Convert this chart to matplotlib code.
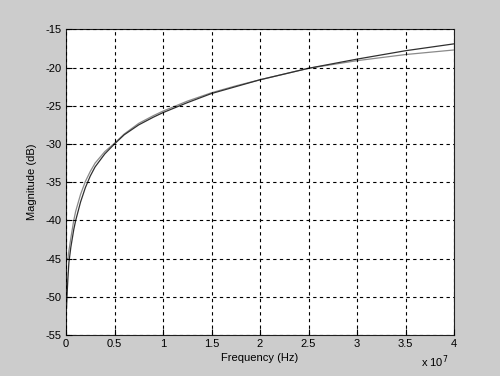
# Magnitude vs frequency, two fitted curves (MATLAB style)
import matplotlib
matplotlib.use('Agg')
import matplotlib.pyplot as plt

# frequency in units of 1e7 Hz
freq_e7 = [0.005, 0.01, 0.02, 0.03, 0.05, 0.08, 0.1, 0.15, 0.2, 0.25, 0.3, 0.4, 0.5,
           0.6, 0.75, 0.9, 1.0, 1.25, 1.5, 1.75, 2.0, 2.5, 3.0, 3.5, 4.0]
mag_dark = [-51.5, -50.0, -47.5, -45.5, -43.5, -41.2, -40.0, -37.6, -35.7, -34.2, -33.0, -31.3, -30.0,
            -28.8, -27.5, -26.5, -25.9, -24.6, -23.4, -22.5, -21.6, -20.1, -18.9, -17.8, -16.9]
mag_gray = [-45.0, -45.0, -45.0, -44.0, -42.3, -40.0, -38.8, -36.6, -34.9, -33.6, -32.5, -31.0, -29.9,
            -28.7, -27.3, -26.3, -25.7, -24.4, -23.3, -22.4, -21.6, -20.1, -19.1, -18.3, -17.7]

xticks = [0, 0.5, 1, 1.5, 2, 2.5, 3, 3.5, 4]
xticklabels = ['0', '0.5', '1', '1.5', '2', '2.5', '3', '3.5', '4']
yticks = [-55, -50, -45, -40, -35, -30, -25, -20, -15]

plt.rcParams['font.family'] = ['Liberation Sans', 'DejaVu Sans']
plt.rcParams['axes.unicode_minus'] = False

fig = plt.figure(figsize=(5.0, 3.76), dpi=100, facecolor='#cccccc')
ax = fig.add_axes([0.132, 0.109, 0.776, 0.813])
ax.set_facecolor('white')

ax.plot(freq_e7, mag_gray, color='#8a8a8a', linewidth=0.9)
ax.plot(freq_e7, mag_dark, color='#303030', linewidth=0.9)

ax.set_xlim(0, 4)
ax.set_ylim(-55, -15)
ax.set_xticks(xticks)
ax.set_xticklabels(xticklabels)
ax.set_yticks(yticks)
ax.tick_params(direction='in', labelsize=8, length=4, color='black', pad=3)

ax.grid(True, color='black', linestyle=(0, (3, 3)), linewidth=0.8)
ax.set_axisbelow(False)
for s in ax.spines.values():
    s.set_color('#202020')
    s.set_linewidth(0.8)

ax.set_xlabel('Frequency (Hz)', fontsize=8, labelpad=3)
ax.set_ylabel('Magnitude (dB)', fontsize=8, labelpad=6)
ax.text(0.985, -0.06, r'x 10$^{7}$', transform=ax.transAxes, ha='right', va='top', fontsize=8)

fig.savefig('out.png', dpi=100, facecolor=fig.get_facecolor())
